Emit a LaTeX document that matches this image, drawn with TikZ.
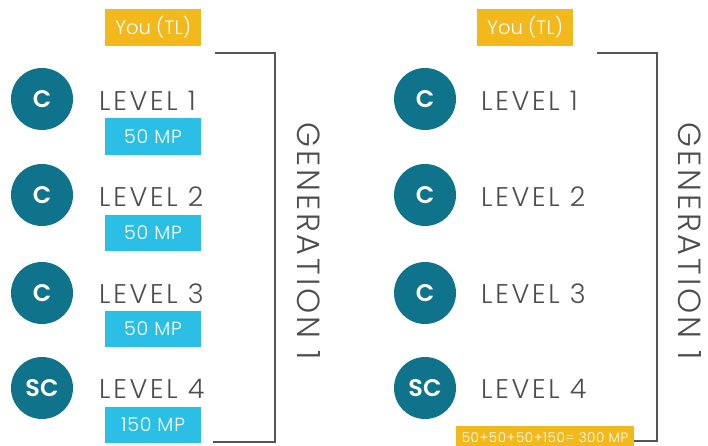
\documentclass[tikz,border=0pt]{standalone}
\usepackage{fontspec}
\setmainfont{Poppins}
\newfontfamily\lightfont{Poppins Light}
\newfontfamily\lvlfont{Poppins Light}[LetterSpace=10]
\newfontfamily\genfont{Poppins Light}[LetterSpace=9]
\newfontfamily\boxfont{Poppins Light}[LetterSpace=4]
\newfontfamily\badgefont{Poppins SemiBold}
\definecolor{badgeteal}{HTML}{0F748B}
\definecolor{mpblue}{HTML}{2CBFE6}
\definecolor{tlyellow}{HTML}{F2B81C}
\definecolor{lvlgray}{HTML}{4D4D4D}
\definecolor{bracketgray}{HTML}{555555}
\begin{document}
\begin{tikzpicture}[x=1pt,y=-1pt,
  badge/.style={circle, fill=badgeteal, minimum size=62pt, inner sep=0pt,
    text=white, font=\badgefont\fontsize{24}{24}\selectfont},
  lvl/.style={anchor=west, inner sep=0pt, text=lvlgray,
    font=\lvlfont\fontsize{27}{27}\selectfont},
  mpbox/.style={fill=mpblue, text=white, minimum width=96pt, minimum height=36pt,
    inner sep=0pt, font=\boxfont\fontsize{19}{19}\selectfont},
  tlbox/.style={fill=tlyellow, text=white, minimum width=96pt, minimum height=37pt,
    inner sep=0pt, font=\lightfont\fontsize{19.5}{19.5}\selectfont},
  gen/.style={rotate=-90, inner sep=0pt, text=lvlgray,
    font=\genfont\fontsize{32}{32}\selectfont},
  bracket/.style={draw=bracketgray, line width=1.2pt}]
\useasboundingbox (0,0) rectangle (708,446);

% ---- left column: points per level ----
\node[tlbox] (tlA) at (153,27.5) {You (TL)};
\node[badge] (bA1) at (42,99)  {C};
\node[badge] (bA2) at (42,195) {C};
\node[badge] (bA3) at (42,293) {C};
\node[badge] (bA4) at (42,388) {SC};
\node[lvl] (lA1) at (99,101) {LEVEL 1};
\node[lvl] (lA2) at (99,197) {LEVEL 2};
\node[lvl] (lA3) at (99,294) {LEVEL 3};
\node[lvl] (lA4) at (99,389) {LEVEL 4};
\node[mpbox, minimum height=37pt] (mA1) at (153,136.5) {50 MP};
\node[mpbox] (mA2) at (153,233) {50 MP};
\node[mpbox] (mA3) at (153,329) {50 MP};
\node[mpbox] (mA4) at (153,425) {150 MP};
\coordinate (kA1) at (215,53);
\coordinate (kA2) at (275,53);
\coordinate (kA3) at (275,442);
\coordinate (kA4) at (213,442);
\draw[bracket] (kA1) -- (kA2) -- (kA3) -- (kA4);
\node[gen] (gA) at (309,241) {GENERATION 1};

% ---- right column: total for the generation ----
\node[tlbox] (tlB) at (525,27.5) {You (TL)};
\node[badge] (bB1) at (425,99)  {C};
\node[badge] (bB2) at (425,195) {C};
\node[badge] (bB3) at (425,293) {C};
\node[badge] (bB4) at (425,388) {SC};
\node[lvl] (lB1) at (481,101) {LEVEL 1};
\node[lvl] (lB2) at (481,197) {LEVEL 2};
\node[lvl] (lB3) at (481,294) {LEVEL 3};
\node[lvl] (lB4) at (481,389) {LEVEL 4};
\node[fill=tlyellow, minimum width=178pt, minimum height=20pt,
  inner sep=0pt, anchor=north] (tot) at (545,426) {};
\node[text=white, inner sep=0pt, anchor=base, font=\boxfont\fontsize{13.5}{13.5}\selectfont]
  (totlabel) at (545,442) {50+50+50+150= 300 MP};
\coordinate (kB1) at (597,53);
\coordinate (kB2) at (657,53);
\coordinate (kB3) at (657,441);
\coordinate (kB4) at (634,441);
\draw[bracket] (kB1) -- (kB2) -- (kB3) -- (kB4);
\node[gen] (gB) at (690,241) {GENERATION 1};
\end{tikzpicture}
\end{document}
